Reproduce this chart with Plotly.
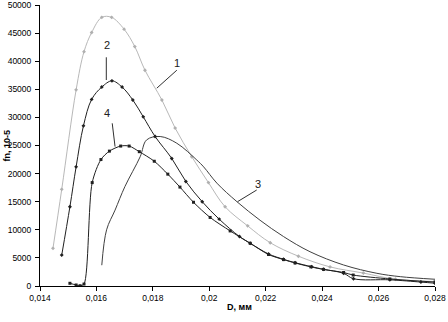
import plotly.graph_objects as go

# Curve 1 (light gray)
x1 = [0.01446, 0.01477, 0.01528, 0.01556, 0.01583, 0.01619, 0.01654, 0.01698, 0.01736, 0.01772,
      0.01832, 0.01879, 0.01938, 0.01997, 0.02056, 0.02136, 0.02216, 0.02316, 0.02428, 0.02546,
      0.0266, 0.028]
y1 = [6700, 17200, 34900, 41700, 45100, 47800, 47800, 45700, 42600, 38400,
      33100, 28100, 23000, 18400, 14100, 10700, 7700, 5300, 3400, 2300,
      1200, 800]

# Curve 2
x2 = [0.01477, 0.01506, 0.01528, 0.01554, 0.01583, 0.01619, 0.01655, 0.01691, 0.01729, 0.01766,
      0.01808, 0.01867, 0.01917, 0.01975, 0.02035, 0.02107, 0.02145, 0.0221, 0.02263, 0.02304,
      0.02363, 0.02405, 0.02476, 0.02511, 0.0264, 0.0275, 0.028]
y2 = [5500, 14100, 21200, 28500, 33200, 35400, 36500, 35400, 33100, 30100,
      26600, 22700, 18600, 15000, 11900, 8800, 7600, 5700, 4750, 4150,
      3430, 2970, 2260, 1300, 1100, 700, 500]

# Curve 3 (no markers)
x3 = [0.01619, 0.01636, 0.01666, 0.01701, 0.01755, 0.01778, 0.01826, 0.01885, 0.01956, 0.0198,
      0.02027, 0.02098, 0.0218, 0.02263, 0.02357, 0.02476, 0.02594, 0.02677, 0.028]
y3 = [3700, 10000, 13500, 17700, 23000, 26000, 26600, 25400, 22400, 21200,
      18300, 15000, 11700, 8800, 6100, 3740, 2260, 1660, 1200]

# Curve 4
x4 = [0.01506, 0.01528, 0.01542, 0.01556, 0.01585, 0.01616, 0.01646, 0.01686, 0.01716, 0.01752,
      0.01805, 0.01853, 0.01896, 0.01944, 0.02003, 0.02074, 0.02145, 0.0221, 0.02263, 0.02304,
      0.0236, 0.02405, 0.02476, 0.0251, 0.0264, 0.028]
y4 = [480, 180, 50, 350, 18400, 22500, 24000, 24900, 24900, 23900,
      22200, 19900, 17600, 14900, 12200, 9800, 7600, 5600, 4700, 4100,
      3400, 2950, 2400, 1950, 1250, 700]

x_ticks = [0.014, 0.016, 0.018, 0.02, 0.022, 0.024, 0.026, 0.028]
x_tick_labels = ["0,014", "0,016", "0,018", "0,02", "0,022", "0,024", "0,026", "0,028"]
y_ticks = [0, 5000, 10000, 15000, 20000, 25000, 30000, 35000, 40000, 45000, 50000]
y_tick_labels = [str(v) for v in y_ticks]

# curve labels: (text, label x, label y, leader start x, y, leader end x, y)
curve_labels = [
    ("1", 0.01887, 39600, 0.01885, 38400, 0.01814, 35200),
    ("2", 0.01637, 42900, 0.01635, 40700, 0.01635, 36650),
    ("3", 0.02174, 18150, 0.02168, 17080, 0.02100, 15000),
    ("4", 0.01637, 30800, 0.01656, 28950, 0.01666, 24800),
]

FONT = "Liberation Sans, Arial, sans-serif"

fig = go.Figure()
fig.add_trace(go.Scatter(x=x1, y=y1, mode="lines+markers", line=dict(color="#b8b8b8", width=1, shape="spline"),
                         marker=dict(size=3, color="#b0b0b0", symbol="diamond")))
fig.add_trace(go.Scatter(x=x3, y=y3, mode="lines", line=dict(color="#404040", width=1, shape="spline")))
fig.add_trace(go.Scatter(x=x2, y=y2, mode="lines+markers", line=dict(color="#202020", width=1, shape="spline"),
                         marker=dict(size=3, color="#202020", symbol="diamond")))
fig.add_trace(go.Scatter(x=x4, y=y4, mode="lines+markers", line=dict(color="#202020", width=1, shape="spline", smoothing=0.8),
                         marker=dict(size=3, color="#202020", symbol="square")))

for t, lx, ly, sx, sy, ex, ey in curve_labels:
    fig.add_annotation(x=lx, y=ly, text=t, showarrow=False, font=dict(family=FONT, size=11, color="#202020"))
    fig.add_shape(type="line", x0=sx, y0=sy, x1=ex, y1=ey, line=dict(color="#303030", width=1))

fig.add_annotation(x=0, y=0.5, xref="paper", yref="paper", text="<b>fn, 10-5</b>", textangle=-90,
                   showarrow=False, xanchor="center", yanchor="middle", xshift=-34,
                   font=dict(family=FONT, size=9, color="black"))
fig.add_annotation(x=0.504, y=0, xref="paper", yref="paper", text="<b>D, мм</b>",
                   showarrow=False, xanchor="center", yanchor="middle", yshift=-21,
                   font=dict(family=FONT, size=9, color="black"))

fig.update_layout(
    width=448, height=322,
    margin=dict(l=40, r=13, t=5, b=36, autoexpand=False),
    paper_bgcolor="white", plot_bgcolor="white",
    showlegend=False,
    font=dict(family=FONT, size=9, color="black"),
)
fig.update_xaxes(range=[0.014, 0.028], tickvals=x_ticks, ticktext=x_tick_labels, automargin=False,
                 showline=True, linecolor="black", linewidth=1, ticks="outside", ticklen=4,
                 tickcolor="black", showgrid=False, zeroline=False, ticklabeloverflow="allow",
                 tickfont=dict(family=FONT, size=8.5, color="black"))
fig.update_yaxes(range=[0, 50000], tickvals=y_ticks, ticktext=y_tick_labels, automargin=False,
                 showline=True, linecolor="black", linewidth=1, ticks="outside", ticklen=4,
                 tickcolor="black", showgrid=False, zeroline=False, ticklabelstandoff=2,
                 ticklabeloverflow="allow",
                 tickfont=dict(family=FONT, size=8.5, color="black"))

fig.write_html("out.html", config={"displayModeBar": False},
               post_script="document.body.style.margin='0';document.body.style.overflow='hidden';")
